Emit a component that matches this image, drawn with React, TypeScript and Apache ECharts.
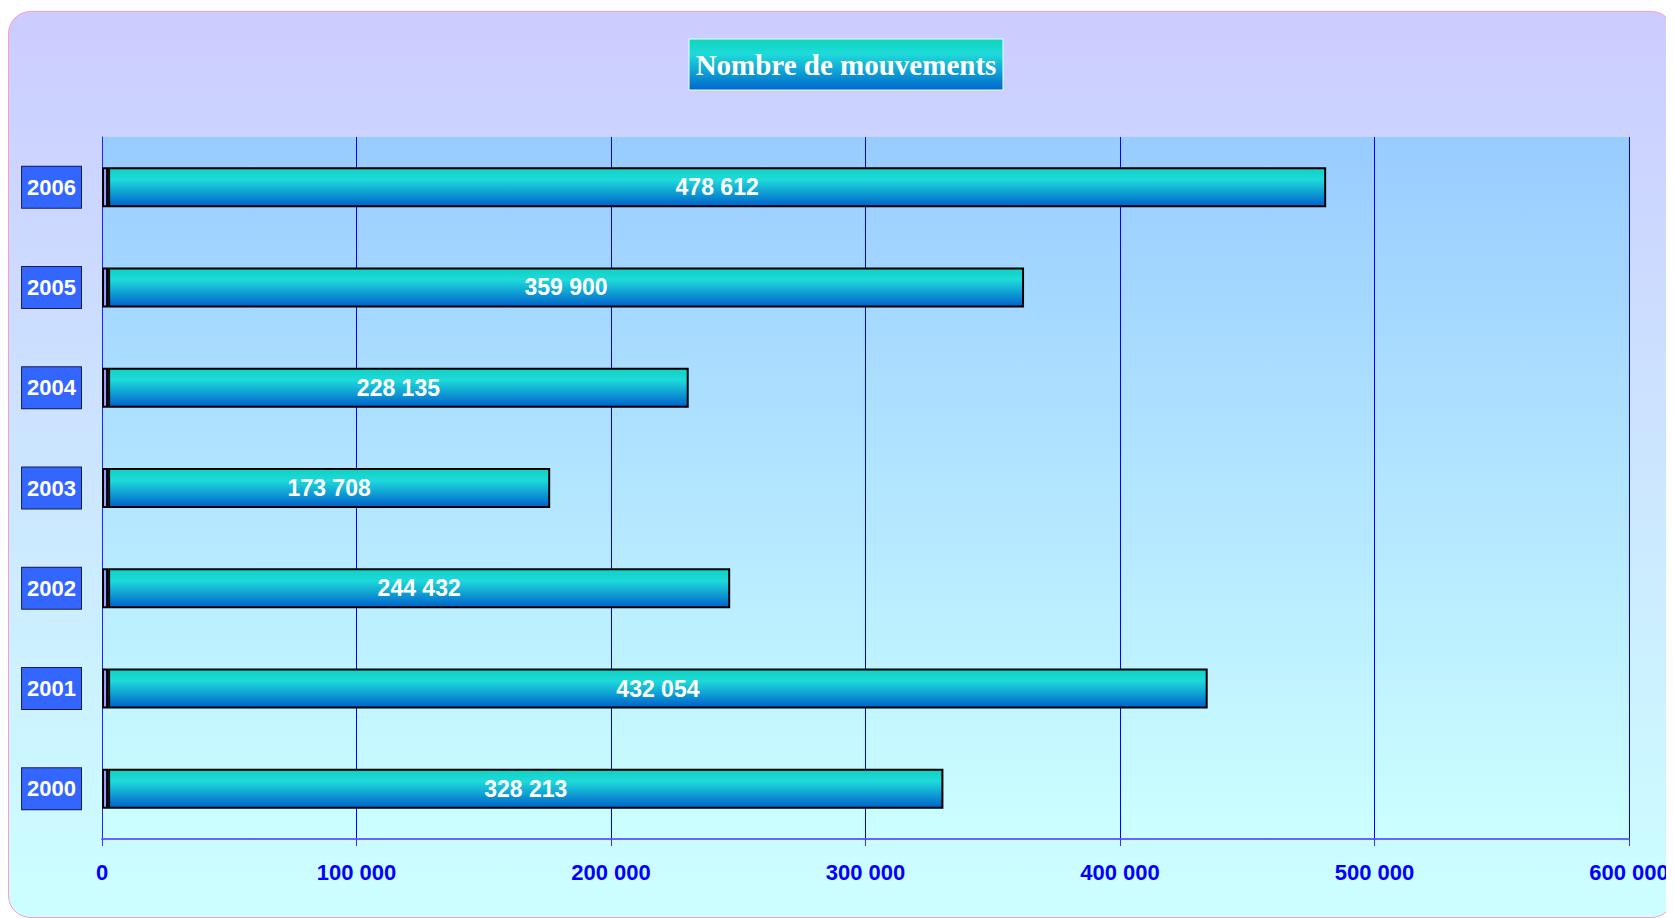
import React, { useEffect, useRef } from "react";
import * as echarts from "echarts";

const years = ["2000", "2001", "2002", "2003", "2004", "2005", "2006"];
const movements = [328213, 432054, 244432, 173708, 228135, 359900, 478612];
// small "depth" segment drawn at the foot of each bar
const depthSegment = [2400, 2400, 2400, 2400, 2400, 2400, 2400];
const xMin = 0;
const xMax = 600000;
const xStep = 100000;
const titleText = "Nombre de mouvements";

const fmt = (v: number) => String(Math.round(v)).replace(/\B(?=(\d{3})+(?!\d))/g, " ");

export default function App() {
  const ref = useRef<HTMLDivElement>(null);
  useEffect(() => {
    if (!ref.current) return;
    const chart = echarts.init(ref.current, null, { renderer: "svg" });
    const barGrad = new echarts.graphic.LinearGradient(0, 0, 0, 1, [
      { offset: 0, color: "#10d0c2" },
      { offset: 0.3, color: "#1edada" },
      { offset: 1, color: "#0060cc" },
    ]);
    const titleGrad = new echarts.graphic.LinearGradient(0, 0, 0, 1, [
      { offset: 0, color: "#10d4bc" },
      { offset: 0.3, color: "#1edada" },
      { offset: 1, color: "#0066cc" },
    ]);
    chart.setOption({
      animation: false,
      graphic: [
        {
          type: "rect",
          z: -10,
          silent: true,
          shape: { x: 0.5, y: 3.5, width: 1665, height: 906, r: 22 },
          style: {
            fill: new echarts.graphic.LinearGradient(0, 0, 0, 1, [
              { offset: 0, color: "#ccccff" },
              { offset: 1, color: "#ccffff" },
            ]),
            stroke: "#ff99cc",
            lineWidth: 1,
          },
        },
        {
          type: "rect",
          z: 10,
          shape: { x: 681, y: 31, width: 314, height: 51 },
          style: { fill: titleGrad, stroke: "#e8ffff", lineWidth: 1 },
        },
        {
          type: "text",
          z: 11,
          x: 838,
          y: 57,
          style: {
            text: titleText,
            fill: "#ffffff",
            font: 'bold 29px "Liberation Serif", "Times New Roman", serif',
            align: "center",
            verticalAlign: "middle",
          },
        },
      ],
      grid: {
        left: 94,
        right: 45,
        top: 129,
        bottom: 79,
        show: true,
        borderWidth: 0,
        backgroundColor: new echarts.graphic.LinearGradient(0, 0, 0, 1, [
          { offset: 0, color: "#99ccff" },
          { offset: 1, color: "#ccffff" },
        ]),
      },
      xAxis: {
        type: "value",
        min: xMin,
        max: xMax,
        interval: xStep,
        splitLine: { show: true, lineStyle: { color: "#0000ff", width: 1 } },
        axisLine: { show: true, lineStyle: { color: "#6666ff", width: 2 } },
        axisTick: { show: true, length: 7, lineStyle: { color: "#3333ff", width: 1 } },
        axisLabel: {
          color: "#0000ff",
          fontWeight: "bold",
          fontSize: 22,
          fontFamily: '"Liberation Sans", Arial, sans-serif',
          margin: 22,
          formatter: (v: number) => fmt(v),
        },
      },
      yAxis: {
        type: "category",
        data: years,
        axisLine: { show: true, lineStyle: { color: "#2222ff", width: 1 } },
        axisTick: { show: false },
        splitLine: { show: false },
        axisLabel: {
          color: "#ffffff",
          fontWeight: "bold",
          fontSize: 22,
          fontFamily: '"Liberation Sans", Arial, sans-serif',
          backgroundColor: "#3366ff",
          borderColor: "#1a1a55",
          borderWidth: 1,
          padding: [8, 5, 8, 5],
          lineHeight: 25,
          margin: 21,
        },
      },
      series: [
        {
          type: "bar",
          stack: "total",
          data: depthSegment,
          barWidth: 40,
          silent: true,
          itemStyle: { color: "#9999ff", borderColor: "#000000", borderWidth: 2 },
        },
        {
          type: "bar",
          stack: "total",
          data: movements,
          barWidth: 40,
          itemStyle: { color: barGrad, borderColor: "#000000", borderWidth: 2 },
          label: {
            show: true,
            position: "inside",
            color: "#ffffff",
            fontWeight: "bold",
            fontSize: 23,
            fontFamily: '"Liberation Sans", Arial, sans-serif',
            formatter: (p: any) => fmt(p.value),
          },
        },
      ],
    });
    return () => chart.dispose();
  }, []);
  return <div ref={ref} style={{ width: 1666, height: 910 }} />;
}
